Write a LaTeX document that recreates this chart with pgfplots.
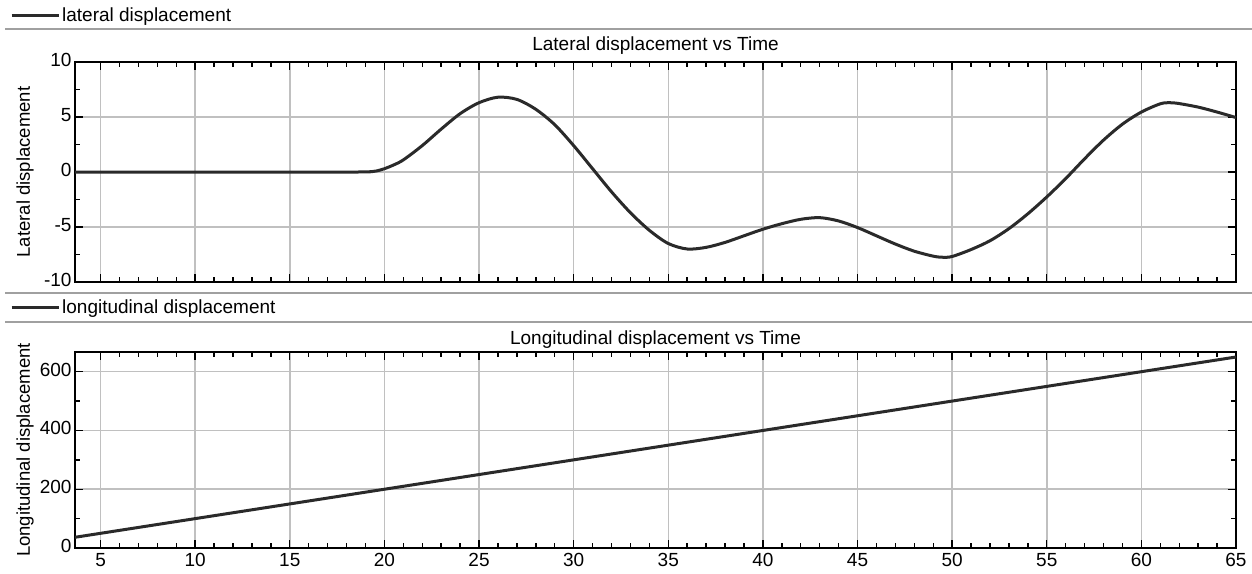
\documentclass[border=0pt]{standalone}
\usepackage{fontspec}
\setmainfont{Liberation Sans}
\usepackage{pgfplots}
\pgfplotsset{compat=1.18}
\usepackage{pgfplotstable}

\definecolor{curve}{HTML}{2A2A2A}
\definecolor{gridc}{HTML}{C0C0C0}
\definecolor{sepc}{HTML}{A0A0A0}

\pgfplotstableread{
t v
3.65 0
10 0
18.5 0
19.2 0.02
19.6 0.1
20 0.3
20.5 0.65
21 1.1
22 2.4
23 3.9
24 5.3
25 6.3
26 6.8
27 6.6
28 5.7
29 4.3
30 2.4
31 0.3
32 -1.8
33 -3.7
34 -5.3
35 -6.5
36 -7.0
37 -6.85
38 -6.4
39 -5.8
40 -5.2
41 -4.7
42 -4.3
43 -4.15
44 -4.45
45 -5.05
46 -5.8
47 -6.55
48 -7.2
49 -7.65
49.5 -7.75
50 -7.68
51 -7.05
52 -6.25
53 -5.15
54 -3.8
55 -2.27
56 -0.6
57 1.2
58 2.9
59 4.35
60 5.45
61 6.2
61.5 6.3
62 6.22
63 5.9
64 5.45
65 4.95
}\lateral

\pgfplotstableread{
t v
3.65 36.5
65 650
}\longitudinal

\pgfplotsset{
  myaxis/.style={
    scale only axis,
    width=1161pt,
    xmin=3.65, xmax=65,
    xtick={5,10,...,65},
    minor x tick num=4,
    minor y tick num=1,
    tick align=inside,
    major tick length=8pt,
    minor tick length=5pt,
    every tick/.style={black, line width=1.4pt},
    axis line style={black, line width=1.6pt},
    grid=major,
    major grid style={gridc, line width=1.5pt},
    /pgf/number format/assume math mode=true,
    typeset ticklabels with strut,
    tick label style={font=\fontsize{19}{22}\selectfont},
    label style={font=\fontsize{18.5}{22}\selectfont},
    title style={font=\fontsize{19}{22}\selectfont, at={(axis description cs:0.5,1)}, anchor=south},
    legend style={draw=none, fill=none, font=\fontsize{19}{22}\selectfont, inner sep=0pt, anchor=west},
    legend image code/.code={\draw[curve, line width=3pt] (0pt,0pt) -- (47pt,0pt);},
    ylabel style={at={(axis description cs:-0.043,0.5)}, anchor=center},
  }
}

\begin{document}
\begin{tikzpicture}
\useasboundingbox (0pt,0pt) rectangle (1252pt,-573pt);
\draw[sepc, line width=1.5pt] (5pt,-29pt) -- (1252pt,-29pt);
\draw[sepc, line width=1.5pt] (5pt,-293pt) -- (1252pt,-293pt);
\draw[sepc, line width=1.5pt] (5pt,-322pt) -- (1252pt,-322pt);

\begin{axis}[myaxis,
  at={(75pt,-62pt)}, anchor=north west,
  height=220pt,
  ymin=-10, ymax=10,
  ytick={-10,-5,0,5,10},
  xticklabels={},
  title={Lateral displacement vs Time},
  title style={yshift=-2pt},
  ylabel={Lateral displacement},
  legend style={at={(axis description cs:-0.056,1.2136)}},
]
\addplot[curve, line width=3pt, smooth] table[x=t, y=v] {\lateral};
\addlegendentry{lateral displacement}
\end{axis}

\begin{axis}[myaxis,
  at={(75pt,-352pt)}, anchor=north west,
  height=196pt,
  ymin=0, ymax=667,
  ytick={0,200,400,600},
  title={Longitudinal displacement vs Time},
  title style={yshift=-6pt},
  ylabel={Longitudinal displacement},
  legend style={at={(axis description cs:-0.056,1.2296)}},
]
\addplot[curve, line width=3pt] table[x=t, y=v] {\longitudinal};
\addlegendentry{longitudinal displacement}
\end{axis}
\end{tikzpicture}
\end{document}
